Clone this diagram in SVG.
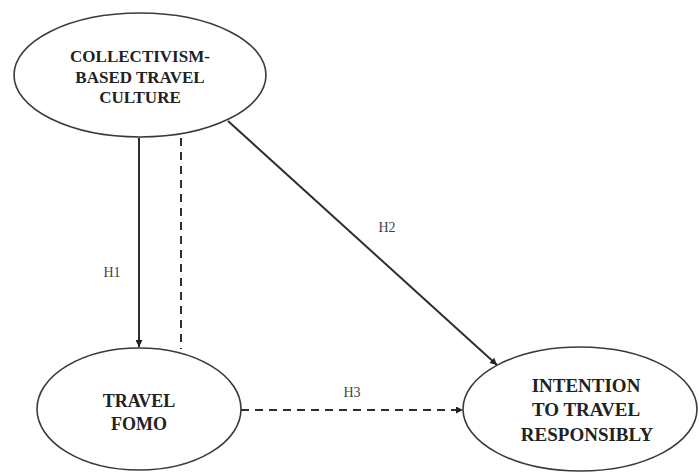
<svg xmlns="http://www.w3.org/2000/svg" width="699" height="473" viewBox="0 0 699 473">
<style>
.node{fill:#fff;stroke:#3a3a3a;stroke-width:1.6}
.nt{font-family:"Liberation Serif","Times New Roman",serif;font-weight:bold;fill:#222;text-anchor:middle}
.lbl{font-family:"Liberation Serif","Times New Roman",serif;font-size:14px;fill:#444;text-anchor:middle}
.c{stroke:#2e2e2e;stroke-width:2;fill:none}
.d{stroke:#2e2e2e;stroke-width:2;fill:none;stroke-dasharray:8 6}
</style>
<defs>
<marker id="ah" viewBox="0 0 10 10" refX="10" refY="5" markerWidth="9" markerHeight="7" markerUnits="userSpaceOnUse" orient="auto">
<path d="M0,0 L10,5 L0,10 Z" fill="#222"/>
</marker>
</defs>
<rect width="699" height="473" fill="#fff"/>
<g id="connectors">
<line class="c" x1="139" y1="138" x2="139" y2="347" marker-end="url(#ah)"/>
<line class="d" x1="181" y1="138" x2="181" y2="349"/>
<line class="c" x1="228" y1="121" x2="497" y2="365" marker-end="url(#ah)"/>
<line class="d" x1="241" y1="410" x2="463" y2="410" marker-end="url(#ah)"/>
<text class="lbl" x="112" y="277">H1</text>
<text class="lbl" x="387" y="232">H2</text>
<text class="lbl" x="352" y="397">H3</text>
</g>
<g id="collectivism">
<ellipse class="node" cx="140" cy="75" rx="126" ry="62"/>
<text class="nt" font-size="17" x="140" y="62">COLLECTIVISM-</text>
<text class="nt" font-size="17" x="140" y="83">BASED TRAVEL</text>
<text class="nt" font-size="17" x="140" y="103">CULTURE</text>
</g>
<g id="fomo">
<ellipse class="node" cx="139" cy="409" rx="102" ry="61"/>
<text class="nt" font-size="18" x="139" y="407">TRAVEL</text>
<text class="nt" font-size="18" x="139" y="430">FOMO</text>
</g>
<g id="intention">
<ellipse class="node" cx="580" cy="409" rx="117" ry="62"/>
<text class="nt" font-size="19" x="586" y="392">INTENTION</text>
<text class="nt" font-size="19" x="586" y="416">TO TRAVEL</text>
<text class="nt" font-size="19" x="587" y="441">RESPONSIBLY</text>
</g>
</svg>
